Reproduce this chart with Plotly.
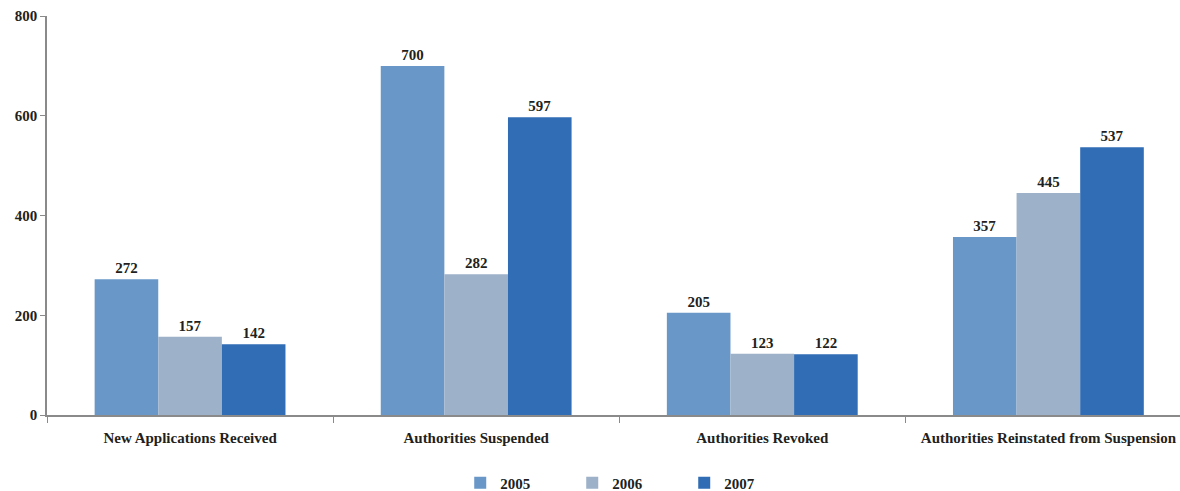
import plotly.graph_objects as go

categories = [
    "New Applications Received",
    "Authorities Suspended",
    "Authorities Revoked",
    "Authorities Reinstated from Suspension",
]
years = ["2005", "2006", "2007"]
values_2005 = [272, 700, 205, 357]
values_2006 = [157, 282, 123, 445]
values_2007 = [142, 597, 122, 537]
y_ticks = [0, 200, 400, 600, 800]

series = [values_2005, values_2006, values_2007]
colors = ["#6897C8", "#9DB1C9", "#306DB5"]

FONT = "Liberation Serif"
TEXT = "#231F20"
AXIS = "#8A8A8A"
bold_font = dict(family=FONT, size=15, color=TEXT, weight="bold")

fig = go.Figure()
for year, vals, color in zip(years, series, colors):
    fig.add_trace(go.Bar(
        name=year,
        x=categories,
        y=vals,
        marker=dict(color=color, line=dict(width=0)),
        text=[str(v) for v in vals],
        textposition="outside",
        textfont=bold_font,
        cliponaxis=False,
    ))

fig.update_layout(
    width=1180,
    height=491,
    margin=dict(l=47, r=0, t=16, b=76, autoexpand=False),
    paper_bgcolor="white",
    plot_bgcolor="white",
    barmode="group",
    bargap=0.333,
    bargroupgap=0,
    font=bold_font,
    showlegend=True,
    legend=dict(
        orientation="h",
        xref="paper",
        x=0.513,
        xanchor="center",
        yref="container",
        y=8 / 491,
        yanchor="middle",
        font=bold_font,
        itemwidth=30,
        entrywidth=67,
        entrywidthmode="pixels",
    ),
)

fig.update_xaxes(
    type="category",
    range=[-0.5, 3.46],
    automargin=False,
    showline=True,
    linecolor=AXIS,
    linewidth=1.5,
    ticks="outside",
    tickson="boundaries",
    ticklen=6,
    tickcolor=AXIS,
    ticklabelstandoff=8,
    tickfont=bold_font,
    showgrid=False,
    zeroline=False,
)

fig.update_yaxes(
    range=[0, 800],
    tickvals=y_ticks,
    automargin=False,
    showline=True,
    linecolor=AXIS,
    linewidth=1.5,
    ticks="outside",
    ticklen=5,
    tickcolor=AXIS,
    tickfont=bold_font,
    showgrid=False,
    zeroline=False,
)

fig.write_html("out.html")
